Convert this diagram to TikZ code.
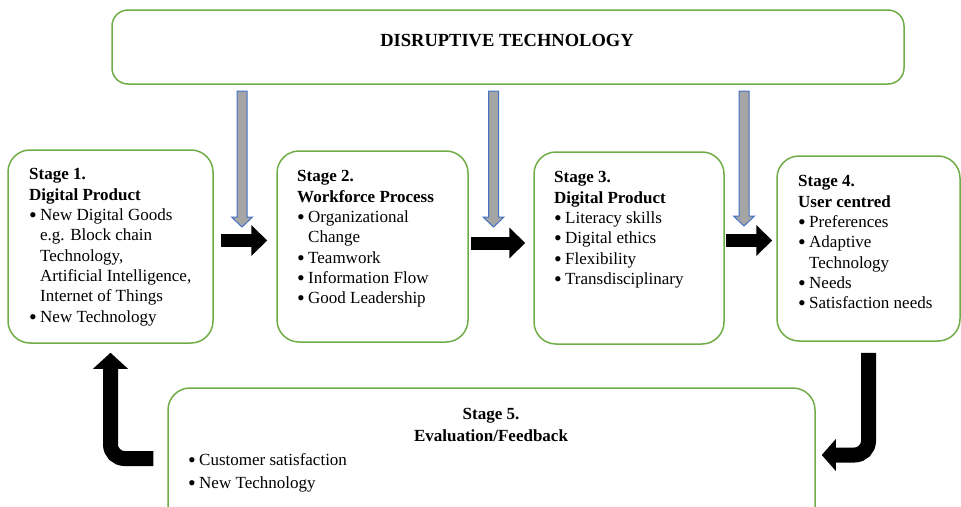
\documentclass[tikz,border=0pt]{standalone}
\usepackage{fontspec}
\setmainfont{Liberation Serif}
\usepackage{xcolor}
\usetikzlibrary{arrows.meta}

\definecolor{boxgreen}{HTML}{70AD47}
\definecolor{arrowblue}{HTML}{4472C4}
\definecolor{arrowgray}{HTML}{A5A5A5}
\newcommand{\bul}{\makebox[11pt][l]{\raisebox{-2pt}{\fontsize{22}{22}\selectfont\textbullet}}}
\newcommand{\ind}{\hspace*{11pt}}

\begin{document}
\begin{tikzpicture}[x=1pt, y=-1pt,
        every node/.append style={font=\fontsize{17}{20.3}\selectfont, inner sep=0pt},
        box/.style={draw=boxgreen, line width=1.5pt, rounded corners=22pt},
        txt/.style={anchor=north west, align=left},
        fatarrow/.style={line width=13pt, -{Triangle[width=30pt,length=16pt]}},
        bendarrow/.style={line width=15pt, rounded corners=14pt},
        downarrow/.style={draw=arrowblue, fill=arrowgray, line width=1pt}]
        \useasboundingbox (0,0) rectangle (961,506);
        \clip (0,0) rectangle (961,506);

        \node[box, rounded corners=16pt, minimum width=792pt, minimum height=74pt] (top) at (508,47) {};
        \node[font=\fontsize{18.5}{22}\selectfont\bfseries, anchor=base] (title) at (507,46) {DISRUPTIVE TECHNOLOGY};

        \node[box, minimum width=205pt, minimum height=193pt] (s1) at (110.5,246.5) {};
        \node[box, minimum width=191pt, minimum height=191pt] (s2) at (372.5,246.5) {};
        \node[box, minimum width=190pt, minimum height=192pt] (s3) at (629,248) {};
        \node[box, minimum width=183pt, minimum height=185pt] (s4) at (868.5,248.5) {};
        \node[box, minimum width=647pt, minimum height=141pt] (s5) at (491.5,458.5) {};

        \node[txt] (t1) at (29,168.5) {\textbf{Stage 1.}\\ \textbf{Digital Product}\\
            \bul New Digital Goods\\ \ind e.g. Block chain\\ \ind Technology,\\
            \ind Artificial Intelligence,\\ \ind Internet of Things\\ \bul New Technology};
        \node[txt] (t2) at (297,170.5) {\textbf{Stage 2.}\\ \textbf{Workforce Process}\\
            \bul Organizational\\ \ind Change\\ \bul Teamwork\\ \bul Information Flow\\
            \bul Good Leadership};
        \node[txt] (t3) at (554,171.5) {\textbf{Stage 3.}\\ \textbf{Digital Product}\\
            \bul Literacy skills\\ \bul Digital ethics\\ \bul Flexibility\\ \bul Transdisciplinary};
        \node[txt] (t4) at (798,175.5) {\textbf{Stage 4.}\\ \textbf{User centred}\\
            \bul Preferences\\ \bul Adaptive\\ \ind Technology\\ \bul Needs\\ \bul Satisfaction needs};
        \node[anchor=north, align=center, font=\fontsize{17}{22}\selectfont\bfseries] (t5) at (491,408.5)
            {Stage 5.\\ Evaluation/Feedback};
        \node[txt, font=\fontsize{17}{23}\selectfont] (t6) at (188,453.4)
            {\bul Customer satisfaction\\ \bul New Technology};

        % arrows from the top box
        \foreach \x/\y in {242/217, 493.5/217, 744/216}
            \draw[downarrow] (\x-5,91) -- (\x-5,\y) -- (\x-10.5,\y) -- (\x,\y+10)
                -- (\x+10.5,\y) -- (\x+5,\y) -- (\x+5,91) -- cycle;

        % stage to stage
        \draw[fatarrow] ([xshift=7pt, yshift=6pt]s1.east) -- ([xshift=-9pt, yshift=6pt]s2.west);
        \draw[fatarrow] ([xshift=2pt, yshift=3.5pt]s2.east) -- ([xshift=-8pt, yshift=5pt]s3.west);
        \draw[fatarrow] ([xshift=1pt, yshift=7.5pt]s3.east) -- ([xshift=-4pt, yshift=8pt]s4.west);

        \draw[bendarrow, -{Triangle[width=31pt,length=14pt]}] ([yshift=-11pt]s4.south)
            |- ([xshift=6pt, yshift=3.5pt]s5.east);
        \draw[bendarrow, -{Triangle[width=34pt,length=16pt]}, shorten >=9pt] ([xshift=-14pt]s5.west)
            -| (s1.south);
    \end{tikzpicture}
\end{document}
